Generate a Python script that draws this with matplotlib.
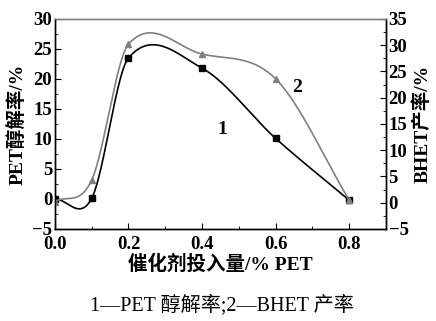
import numpy as np
import matplotlib.pyplot as plt
from matplotlib.ticker import MultipleLocator

plt.rcParams['font.family'] = ['Liberation Serif', 'Noto Sans CJK SC']
plt.rcParams['axes.unicode_minus'] = True

# 催化剂投入量 / % PET
dosage = [0.0, 0.1, 0.2, 0.4, 0.6, 0.8]
# 1 — PET 醇解率 / % (left axis)
pet_rate = [0.0, 0.1, 23.5, 21.8, 10.1, -0.2]
# 2 — BHET 产率 / % (right axis)
bhet_yield = [0.2, 4.3, 30.2, 28.3, 23.6, 0.5]


def smooth_line(x, y, n=60):
    # cubic Hermite (Catmull-Rom style) curve through the points, for drawing only
    x = np.asarray(x, float)
    y = np.asarray(y, float)
    k = len(x)
    m = np.zeros(k)
    m[0] = (y[1] - y[0]) / (x[1] - x[0])
    m[-1] = (y[-1] - y[-2]) / (x[-1] - x[-2])
    for i in range(1, k - 1):
        m[i] = (y[i + 1] - y[i - 1]) / (x[i + 1] - x[i - 1])
    xs_all, ys_all = [], []
    for i in range(k - 1):
        h = x[i + 1] - x[i]
        t = np.linspace(0, 1, n)
        h00 = 2 * t ** 3 - 3 * t ** 2 + 1
        h10 = t ** 3 - 2 * t ** 2 + t
        h01 = -2 * t ** 3 + 3 * t ** 2
        h11 = t ** 3 - t ** 2
        xs_all.append(x[i] + t * h)
        ys_all.append(h00 * y[i] + h10 * h * m[i] + h01 * y[i + 1] + h11 * h * m[i + 1])
    return np.concatenate(xs_all), np.concatenate(ys_all)


fig = plt.figure(figsize=(4.36, 3.21), dpi=100)
ax = fig.add_axes([0.126, 0.287, 0.759, 0.654])
ax2 = ax.twinx()

xs, ys = smooth_line(dosage, pet_rate)
ax.plot(xs, ys, color='black', lw=1.2)
ax.plot(dosage, pet_rate, ls='none', marker='s', ms=4, color='black')

xs2, ys2 = smooth_line(dosage, bhet_yield)
ax2.plot(xs2, ys2, color='#808080', lw=1.2)
ax2.plot(dosage, bhet_yield, ls='none', marker='^', ms=4.5, color='#808080')

ax.set_xlim(0, 0.9)
ax.set_ylim(-5, 30)
ax2.set_ylim(-5, 35)

ax.xaxis.set_major_locator(MultipleLocator(0.2))
ax.xaxis.set_minor_locator(MultipleLocator(0.1))
ax.yaxis.set_major_locator(MultipleLocator(5))
ax.yaxis.set_minor_locator(MultipleLocator(2.5))
ax2.yaxis.set_major_locator(MultipleLocator(5))
ax2.yaxis.set_minor_locator(MultipleLocator(2.5))
ax.xaxis.set_major_formatter(lambda v, p: f'{v:.1f}')

for a in (ax, ax2):
    a.tick_params(which='both', direction='in', labelsize=13.5, pad=2)
    a.tick_params(which='major', length=4)
    a.tick_params(which='minor', length=2)
    for lab in a.get_xticklabels() + a.get_yticklabels():
        lab.set_fontweight('bold')
ax.tick_params(axis='x', which='both', pad=5)
for s in list(ax.spines.values()) + list(ax2.spines.values()):
    s.set_linewidth(1.0)
ax2.spines['top'].set_color('#808080')
ax.spines['top'].set_color('#808080')

ax.set_xlabel('催化剂投入量/% PET', fontsize=14, fontweight='bold', labelpad=1)
ax.set_ylabel('PET醇解率/%', fontsize=14, fontweight='bold', labelpad=3)
ax2.set_ylabel('BHET产率/%', fontsize=14, fontweight='bold', rotation=90, labelpad=3)

ax.text(0.454, 11.5, '1', fontsize=14, fontweight='bold', ha='center', va='center')
ax.text(0.658, 18.5, '2', fontsize=14, fontweight='bold', ha='center', va='center')

fig.text(0.51, 0.05, '1—PET 醇解率;2—BHET 产率', fontsize=14.5, ha='center', va='center')

fig.savefig('out.png', dpi=100)
